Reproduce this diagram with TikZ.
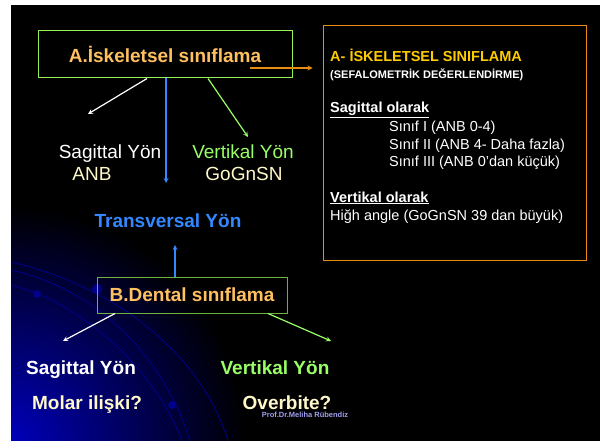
\documentclass[tikz,border=0pt]{standalone}
\usepackage{fontspec}
\setmainfont{Liberation Sans}
\usetikzlibrary{%
  arrows,%
  positioning,% wg. " of "
  calc%
}

\definecolor{titleorange}{RGB}{255,192,96}
\definecolor{lightyellow}{RGB}{255,248,200}
\definecolor{textgreen}{RGB}{153,255,102}
\definecolor{textblue}{RGB}{51,136,255}
\definecolor{infoyellow}{RGB}{255,204,0}
\definecolor{boxorange}{RGB}{232,140,20}
\definecolor{greenA}{RGB}{150,240,90}
\definecolor{greenB}{RGB}{110,180,60}
\definecolor{cornerblue}{RGB}{0,0,185}
\definecolor{arcblue}{RGB}{0,0,140}
\definecolor{signblue}{RGB}{160,160,240}

\tikzset{
  bigtext/.style={font=\fontsize{19}{23}\selectfont, inner sep=0pt, anchor=base},
  bigbold/.style={font=\bfseries\fontsize{19}{23}\selectfont, inner sep=0pt, anchor=base},
  titlebox/.style={draw=#1, line width=1pt, inner sep=0pt, text=titleorange,
    font=\bfseries\fontsize{19}{23}\selectfont},
  infoline/.style={font=\fontsize{14.5}{17}\selectfont, text=white, inner sep=0pt, anchor=base west},
  infohead/.style={infoline, font=\bfseries\fontsize{14.5}{17}\selectfont},
  arc/.style={draw=arcblue, line width=0.8pt}
}

\begin{document}
\begin{tikzpicture}[x=1pt,y=-1pt,>=stealth]
\useasboundingbox (0,0) rectangle (608,441);
\fill[white] (0,0) rectangle (608,441);
\fill[black] (11,5) rectangle (600,441);

%blue corner of the slide and its arcs
\begin{scope}
\clip (11,5) rectangle (600,441);
\shade[inner color=cornerblue, outer color=black] (11,441) circle (235pt);
\end{scope}
\draw[arc] (11,262) .. controls (110,285) and (200,350) .. (228,441);
\draw[arc] (11,270) .. controls (100,290) and (165,360) .. (190,441);
\draw[arc] (11,285) .. controls (90,305) and (160,380) .. (182,441);
\fill[arcblue] (97,289) circle (5pt) (37,294) circle (4pt) (172,405) circle (4pt);

%Skeletal classification box and its branches
\node[titlebox=greenA, minimum width=254pt, minimum height=47pt] (skel) at (165,54.5) {A.İskeletsel sınıflama};

\node[bigtext, text=white] (sagA) at (110,159) {Sagittal Yön};
\node[bigtext, text=lightyellow] (anbA) at (92,180) {ANB};
\node[bigtext, text=textgreen] (vertA) at (243,159) {Vertikal Yön};
\node[bigtext, text=lightyellow] (gognA) at (244,180) {GoGnSN};
\node[bigbold, text=textblue] (transv) at (168,227) {Transversal Yön};

\coordinate (sagAtip) at (88,114);
\coordinate (vertAtip) at (248,137);
\coordinate (transvtip) at (166,183);
\draw[->, white, line width=1.2pt] ([xshift=-18pt]skel.south) -- (sagAtip);
\draw[->, textblue, line width=1.2pt] ([xshift=1pt]skel.south) -- (transvtip);
\draw[->, textgreen, line width=1.2pt] ([xshift=43pt]skel.south) -- (vertAtip);

%Info box on the right
\node[draw=boxorange, line width=1pt, minimum width=263pt, minimum height=234pt] (info) at (454.5,143) {};
\node[infohead, text=infoyellow] (infotitle) at (330,62) {A- İSKELETSEL SINIFLAMA};
\node[infoline, font=\bfseries\fontsize{11}{13}\selectfont] (infosub) at (330,79) {(SEFALOMETRİK DEĞERLENDİRME)};
\node[infohead] (infosag) at (330,113) {\underline{Sagittal olarak}};
\node[infoline] (sinif1) at (389,132) {Sınıf I (ANB 0-4)};
\node[infoline] (sinif2) at (389,149.5) {Sınıf II (ANB 4- Daha fazla)};
\node[infoline] (sinif3) at (389,167) {Sınıf III (ANB 0’dan küçük)};
\node[infohead] (infovert) at (330,202) {\underline{Vertikal olarak}};
\node[infoline] (infohigh) at (330,220) {Hiğh angle (GoGnSN 39 dan büyük)};

\coordinate (infostart) at (250,68);
\draw[->, boxorange, line width=1.2pt, shorten >=10pt] (infostart) -- (infostart -| info.west);

%Dental classification box and its branches
\node[titlebox=greenB, minimum width=190pt, minimum height=36pt] (dental) at (192,295) {B.Dental sınıflama};

\node[bigbold, text=white] (sagB) at (81,374) {Sagittal Yön};
\node[bigbold, text=lightyellow] (molarB) at (87,409) {Molar ilişki?};
\node[bigbold, text=textgreen] (vertB) at (275,374) {Vertikal Yön};
\node[bigbold, text=lightyellow] (overB) at (287,409) {Overbite?};
\node[font=\bfseries\fontsize{7.5}{9}\selectfont, text=signblue, inner sep=0pt] (prof) at (305,415) {Prof.Dr.Meliha Rübendiz};

\coordinate (transvfoot) at (175,245);
\coordinate (sagBtip) at (63,341);
\coordinate (vertBtip) at (331,341);
\draw[->, textblue, line width=1.2pt] ([xshift=-17pt]dental.north) -- (transvfoot);
\draw[->, white, line width=1.2pt] ([xshift=-77pt]dental.south) -- (sagBtip);
\draw[->, textgreen, line width=1.2pt] ([xshift=76pt]dental.south) -- (vertBtip);
\end{tikzpicture}
\end{document}
